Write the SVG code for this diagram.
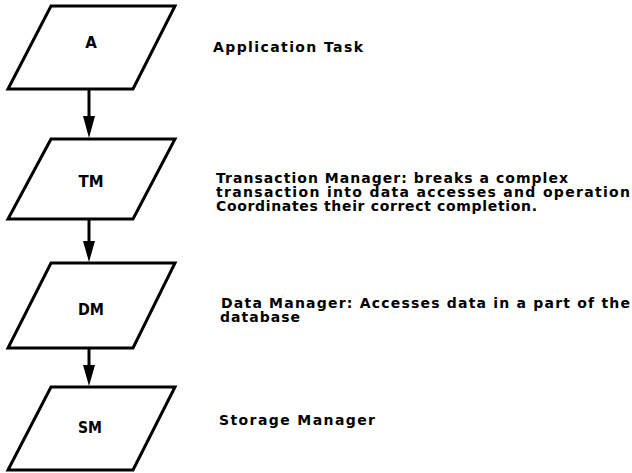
<svg xmlns="http://www.w3.org/2000/svg" width="632" height="473" viewBox="0 0 632 473">
  <defs>
    <style>
      .box { fill: #ffffff; stroke: #000000; stroke-width: 3; stroke-linejoin: miter; }
      .lbl { font-family: "DejaVu Sans", "Liberation Sans", Arial, sans-serif; font-weight: bold; font-size: 15px; fill: #000000; text-anchor: middle; }
      .desc { font-family: "DejaVu Sans", "Liberation Sans", Arial, sans-serif; font-weight: bold; font-size: 14px; fill: #000000; }
      .wire { stroke: #000000; stroke-width: 3; fill: none; }
    </style>
  </defs>
  <rect width="632" height="473" fill="#ffffff"/>

  <g id="connectors">
    <line class="wire" x1="89" y1="89" x2="89" y2="118"/>
    <polygon points="83,116 95,116 89,138" fill="#000000"/>
    <line class="wire" x1="89" y1="219" x2="89" y2="243"/>
    <polygon points="83,241 95,241 89,262" fill="#000000"/>
    <line class="wire" x1="89" y1="348" x2="89" y2="367"/>
    <polygon points="83,365 95,365 89,386" fill="#000000"/>
  </g>

  <g id="node-a">
    <polygon class="box" points="51,6 175,6 133,89 8,89"/>
    <text class="lbl" x="91" y="48">A</text>
  </g>

  <g id="node-tm">
    <polygon class="box" points="51,139 175,139 133,219 8,219"/>
    <text class="lbl" x="91" y="187" textLength="25" lengthAdjust="spacingAndGlyphs">TM</text>
  </g>

  <g id="node-dm">
    <polygon class="box" points="51,263 175,263 133,348 8,348"/>
    <text class="lbl" x="91" y="315" textLength="26" lengthAdjust="spacingAndGlyphs">DM</text>
  </g>

  <g id="node-sm">
    <polygon class="box" points="51,387 175,387 133,470 8,470"/>
    <text class="lbl" x="90" y="433" textLength="24" lengthAdjust="spacingAndGlyphs">SM</text>
  </g>

  <g id="descriptions">
    <text class="desc" x="213" y="52" textLength="150" lengthAdjust="spacing">Application Task</text>
    <text class="desc">
      <tspan x="216" y="183" textLength="352" lengthAdjust="spacing">Transaction Manager:  breaks a complex</tspan>
      <tspan x="216" y="197" textLength="414" lengthAdjust="spacing">transaction into data accesses and operation</tspan>
      <tspan x="216" y="211" textLength="321" lengthAdjust="spacing">Coordinates their correct completion.</tspan>
    </text>
    <text class="desc">
      <tspan x="221" y="308" textLength="409" lengthAdjust="spacing">Data Manager: Accesses data in a part of the</tspan>
      <tspan x="220" y="322" textLength="80" lengthAdjust="spacing">database</tspan>
    </text>
    <text class="desc" x="219" y="425" textLength="156" lengthAdjust="spacing">Storage Manager</text>
  </g>
</svg>
